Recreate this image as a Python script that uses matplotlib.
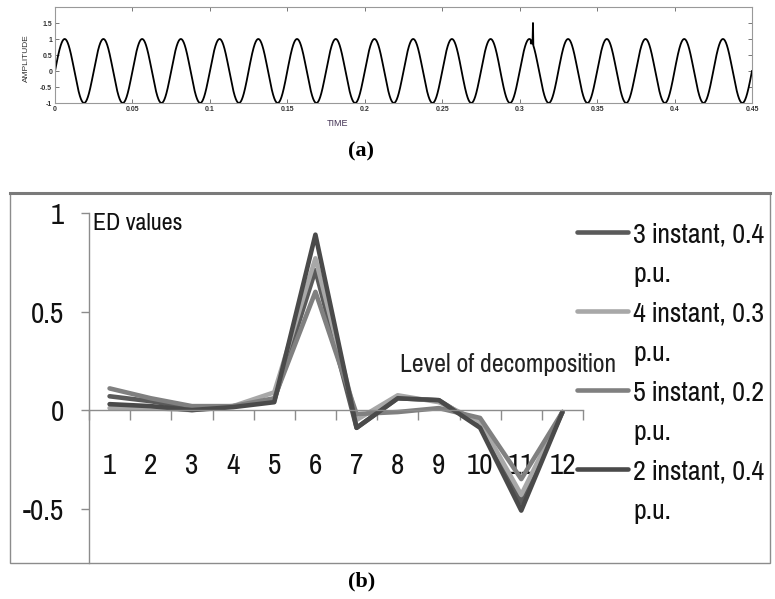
import os
import numpy as np
import matplotlib
matplotlib.use("Agg")
import matplotlib.pyplot as plt
import matplotlib.font_manager as fm
from matplotlib.font_manager import FontProperties
from matplotlib.textpath import TextPath
from matplotlib.patches import Rectangle
from matplotlib.lines import Line2D

# ---------------- data ----------------
# panel (a): sinusoidal signal with a transient spike
sig_freq = 40.0          # Hz
sig_amp = 1.0
t_end = 0.45
spike_t = [0.3072, 0.3083, 0.3086, 0.3088]
spike_v = [0.86, 0.86, 1.5, 0.80]
a_xticks = [0, 0.05, 0.1, 0.15, 0.2, 0.25, 0.3, 0.35, 0.4, 0.45]
a_xticklabels = ["0", "0.05", "0.1", "0.15", "0.2", "0.25", "0.3", "0.35", "0.4", "0.45"]
a_yticks = [-1, -0.5, 0, 0.5, 1, 1.5]
a_yticklabels = ["-1", "-0.5", "0", "0.5", "1", "1.5"]

# panel (b): ED values per level of decomposition
levels = list(range(1, 13))
level_labels = [str(v) for v in levels]
series_names = ["3 instant, 0.4", "4 instant, 0.3", "5 instant, 0.2", "2 instant, 0.4"]
ed_3inst = [0.07, 0.045, 0.01, 0.02, 0.05, 0.71, -0.09, 0.06, 0.05, -0.08, -0.47, -0.01]
ed_4inst = [0.01, 0.01, 0.00, 0.02, 0.09, 0.77, -0.05, 0.075, 0.04, -0.06, -0.43, -0.01]
ed_5inst = [0.11, 0.06, 0.02, 0.02, 0.06, 0.60, -0.02, -0.01, 0.01, -0.04, -0.35, -0.01]
ed_2inst = [0.03, 0.02, 0.00, 0.015, 0.04, 0.89, -0.09, 0.06, 0.05, -0.09, -0.51, -0.01]
series_colors = ["#5a5a5a", "#a8a8a8", "#808080", "#4a4a4a"]
b_yticks = [-0.5, 0, 0.5, 1]
b_yticklabels = ["-0.5", "0", "0.5", "1"]


# ---------------- font helpers ----------------
def pick_narrow_font():
    ranked = []
    for f in fm.fontManager.ttflist:
        fn = os.path.basename(f.fname).lower()
        nm = f.name.lower()
        if f.style != "normal":
            continue
        if f.weight not in (400, "normal", "regular", "book"):
            continue
        if ("serif" in nm and "sans" not in nm) or "mono" in nm or "cjk" in nm:
            continue
        if "[" in fn:
            continue
        st = str(f.stretch)
        score = None
        if "narrow" in nm or "narrow" in fn:
            score = 0
        elif "semicondensed" in fn or st == "semi-condensed":
            score = 1
        elif ("condensed" in fn or "condensed" in nm or st == "condensed") and \
                "extra" not in fn and "ultra" not in fn:
            score = 2
        if score is not None:
            ranked.append((score, fn, f.fname))
    if ranked:
        ranked.sort()
        return ranked[0][2]
    return fm.findfont(FontProperties(family="Roboto"))


FP_PATH = pick_narrow_font()


def fprop(size):
    return FontProperties(fname=FP_PATH, size=size)


def size_for(s, target_px):
    tp = TextPath((0, 0), s, size=10, prop=FontProperties(fname=FP_PATH))
    w = tp.get_extents().width * 100 / 72
    return 10 * target_px / w


leg_size = size_for("3 instant, 0.4", 130)
tick_size = 0.5 * (size_for("0.5", 30) + size_for("10", 25))
ed_size = size_for("ED values", 87)
lvl_size = size_for("Level of decomposition", 213)

W, H = 775, 599
fig = plt.figure(figsize=(W / 100, H / 100), dpi=100)
fig.patch.set_facecolor("white")


def fx(px):
    return px / W


def fy(py):
    return 1 - py / H


# ---------------- panel (a) ----------------
axA = fig.add_axes([fx(55), fy(103), fx(752) - fx(55), fy(7) - fy(103)])
t = np.linspace(0, t_end, 6000)
v = sig_amp * np.sin(2 * np.pi * sig_freq * t)
keep = (t < spike_t[0]) | (t > spike_t[-1])
t_all = np.concatenate([t[keep], spike_t])
v_all = np.concatenate([v[keep], spike_v])
order = np.argsort(t_all, kind="stable")
axA.plot(t_all[order], v_all[order], color="black", lw=1.3)
axA.set_xlim(0, t_end)
axA.set_ylim(-1, 2)
axA.set_xticks(a_xticks)
axA.set_xticklabels(a_xticklabels)
axA.set_yticks(a_yticks)
axA.set_yticklabels(a_yticklabels)
axA.tick_params(direction="in", top=True, right=True, length=3, width=0.7,
                color="#777777", labelsize=5, labelcolor="#333333", pad=2)
for s in axA.spines.values():
    s.set_color("#999999")
    s.set_linewidth(0.8)
axA.set_xlabel("TIME", fontsize=6.5, color="#443355", labelpad=1,
               family="Liberation Sans")
axA.xaxis.set_label_coords(0.405, -0.17)
axA.set_ylabel("AMPLITUDE", fontsize=6, color="#333333", labelpad=2,
               family="Liberation Sans")
axA.yaxis.set_label_coords(-0.036, 0.47)
for lab in axA.get_xticklabels() + axA.get_yticklabels():
    lab.set_family("Liberation Sans")
    lab.set_fontweight("bold")

fig.text(fx(361), fy(151), "(a)", ha="center", va="center", fontsize=16,
         fontweight="bold", family="Liberation Serif")

# ---------------- panel (b) ----------------
fig.patches.append(Rectangle((fx(10), fy(563)), fx(770) - fx(10), fy(193) - fy(563),
                             transform=fig.transFigure, fill=False,
                             edgecolor="#8c8c8c", lw=1.0))
fig.lines.append(Line2D([fx(10), fx(770)], [fy(193), fy(193)],
                        transform=fig.transFigure, color="#7a7a7a", lw=2.2))

axB = fig.add_axes([fx(89), fy(563), fx(583) - fx(89), fy(213) - fy(563)])
axB.set_facecolor("none")
handles = []
for vals, c, name in zip([ed_3inst, ed_4inst, ed_5inst, ed_2inst], series_colors, series_names):
    ln, = axB.plot(levels, vals, color=c, lw=3.3, solid_joinstyle="round",
                   solid_capstyle="round", label=name)
    handles.append(ln)

axB.set_xlim(0.5, 12.5)
axB.set_ylim(-0.776, 1.0)
axB.spines["top"].set_visible(False)
axB.spines["right"].set_visible(False)
axB.spines["bottom"].set_position(("data", 0))
for s in ["left", "bottom"]:
    axB.spines[s].set_color("#8c8c8c")
    axB.spines[s].set_linewidth(1.0)

axB.set_xticks(levels)
axB.set_xticklabels(level_labels)
axB.set_xticks(np.arange(0.5, 13, 1.0), minor=True)
axB.tick_params(axis="x", which="major", length=0, pad=55 * 0.72,
                labelcolor="#111111")
axB.tick_params(axis="x", which="minor", direction="out", length=7, width=1,
                color="#8c8c8c")
axB.set_yticks(b_yticks)
axB.set_yticklabels(b_yticklabels)
axB.tick_params(axis="y", direction="out", length=6, width=1, color="#8c8c8c",
                pad=12, labelcolor="#111111")
for lab in axB.get_xticklabels():
    lab.set_fontproperties(fprop(tick_size))
    lab.set_va("center")
for lab in axB.get_yticklabels():
    lab.set_fontproperties(fprop(tick_size))

fig.text(fx(93), fy(223), "ED values", ha="left", va="center",
         fontproperties=fprop(ed_size), color="#111111")
fig.text(fx(400), fy(365), "Level of decomposition", ha="left", va="center",
         fontproperties=fprop(lvl_size), color="#222222")

# legend: each label split over two lines, handle on the first line
blank = Line2D([], [], color="none")
leg_handles, leg_labels = [], []
for h, name in zip(handles, series_names):
    leg_handles += [h, blank]
    leg_labels += [name, "p.u."]

size_px = leg_size * 100 / 72
target_pitch = 39.5
target_left = 633.0
target_cy = H - 235.0


def make_legend(lspace, ax_, ay_):
    lg = fig.legend(leg_handles, leg_labels, loc="upper left",
                    bbox_to_anchor=(ax_, ay_), frameon=False,
                    handlelength=51 / size_px, handletextpad=5 / size_px,
                    borderpad=0, borderaxespad=0, labelspacing=lspace,
                    prop=fprop(leg_size))
    for txt in lg.get_texts():
        txt.set_color("#111111")
    return lg


lspace = 0.4
anc_x, anc_y = fx(577), fy(219)
for _ in range(3):
    leg = make_legend(lspace, anc_x, anc_y)
    fig.canvas.draw()
    texts = leg.get_texts()
    e0 = texts[0].get_window_extent()
    e1 = texts[1].get_window_extent()
    pitch = e0.y0 - e1.y0
    cy = 0.5 * (e0.y0 + e0.y1)
    dx = target_left - e0.x0
    dy = target_cy - cy
    leg.remove()
    lspace = lspace + (target_pitch - pitch) / size_px
    anc_x += dx / W
    anc_y += dy / H
leg = make_legend(lspace, anc_x, anc_y)

fig.text(fx(362), fy(581), "(b)", ha="center", va="center", fontsize=16,
         fontweight="bold", family="Liberation Serif")

fig.savefig("out.png", dpi=100, facecolor="white")
